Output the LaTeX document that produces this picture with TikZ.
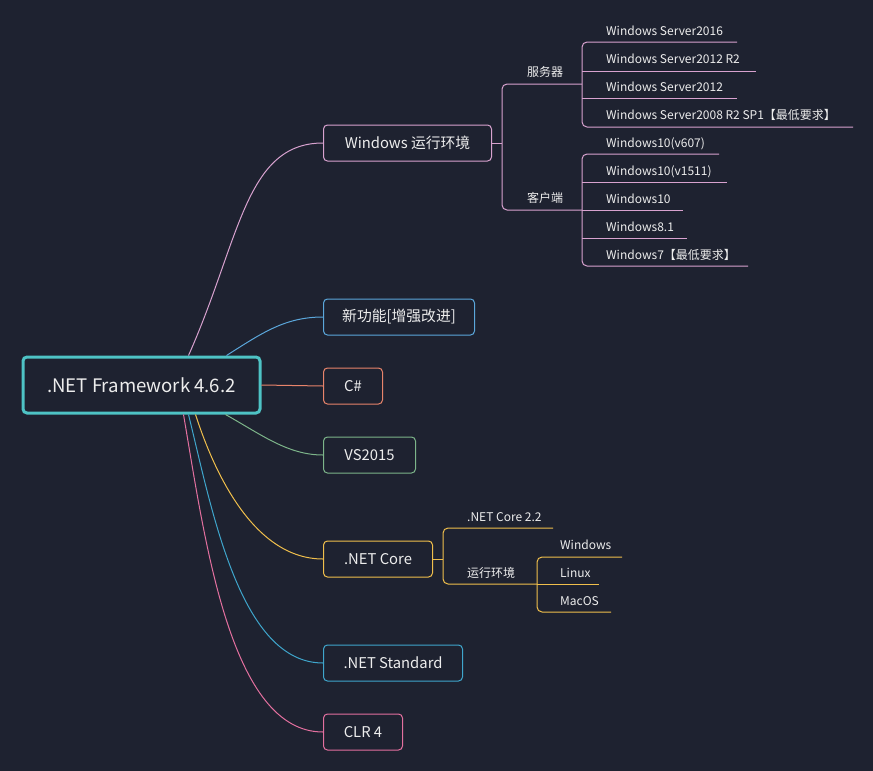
\documentclass[tikz,border=0pt]{standalone}
\usepackage{fontspec}
\setmainfont{Noto Sans CJK SC}
\definecolor{bg}{HTML}{1E2230}
\definecolor{rootc}{HTML}{4EC3C5}
\definecolor{txt}{HTML}{EDEDED}
\definecolor{cwin}{HTML}{D8A2CF}
\definecolor{cnew}{HTML}{5BA7DB}
\definecolor{ccs}{HTML}{E8846B}
\definecolor{cvs}{HTML}{7DB58A}
\definecolor{ccore}{HTML}{F0BF4C}
\definecolor{cstd}{HTML}{3FA6CC}
\definecolor{cclr}{HTML}{E3709F}
\tikzset{
  rootbox/.style={draw=rootc, line width=3pt, rounded corners=4pt, fill=bg, text=txt,
    minimum width=237pt, minimum height=56pt, inner sep=0pt, font=\fontsize{18.6}{22}\selectfont},
  branch/.style={draw=#1, line width=1pt, rounded corners=4pt, fill=bg, text=txt, anchor=west,
    minimum height=36pt, inner sep=0pt, font=\fontsize{14.8}{17}\selectfont},
  leaf/.style={text=txt, anchor=base west, inner sep=0pt, font=\fontsize{12}{14}\selectfont},
  conn/.style={draw=#1, line width=1pt},
  brk/.style={draw=#1, line width=1pt, rounded corners=5pt},
}
\begin{document}
\begin{tikzpicture}[x=1pt,y=-1pt]
\useasboundingbox (0,0) rectangle (873,771);
\fill[bg] (0,0) rectangle (873,771);

% main nodes
\node[rootbox] (root) at (141.5,385) {.NET Framework 4.6.2};
\node[branch=cwin, minimum width=168pt] (win) at (323,143) {Windows 运行环境};
\node[branch=cnew, minimum width=151pt] (new) at (323,317) {新功能[增强改进]};
\node[branch=ccs, minimum width=59pt] (cs) at (323,386) {C\#};
\node[branch=cvs, minimum width=92pt] (vs) at (323,455) {VS2015};
\node[branch=ccore, minimum width=109pt] (core) at (323,559) {.NET Core};
\node[branch=cstd, minimum width=139pt] (std) at (323,663) {.NET Standard};
\node[branch=cclr, minimum width=79pt] (clr) at (323,732) {CLR 4};

% connectors root -> branches
\draw[conn=cwin] ([xshift=167pt]root.north west) .. controls (240,240) and (245,143) .. (win.west);
\draw[conn=cnew] ([xshift=205pt]root.north west) .. controls (262,333) and (285,317) .. (new.west);
\draw[conn=ccs] (root.east) -- (cs.west);
\draw[conn=cvs] ([xshift=204pt]root.south west) .. controls (262,435) and (288,455) .. (vs.west);
\draw[conn=ccore] ([xshift=174pt]root.south west) .. controls (215,475) and (255,559) .. (core.west);
\draw[conn=cstd] ([xshift=167pt]root.south west) .. controls (212,510) and (240,663) .. (std.west);
\draw[conn=cclr] ([xshift=162pt]root.south west) .. controls (205,540) and (230,732) .. (clr.west);

% Windows branch
\coordinate (wj) at (502,143);
\coordinate (srvJ) at (582,84);
\coordinate (cliJ) at (582,210);
\draw[conn=cwin] (win.east) -- (wj);
\draw[brk=cwin] (srvJ) -- (502,84) -- (502,210) -- (cliJ);
\node[leaf] (srv) at (527,76) {服务器};
\node[leaf] (cli) at (527,202) {客户端};

% servers
\coordinate (s1e) at (737,42);
\coordinate (s2e) at (756,71);
\coordinate (s3e) at (737,98);
\coordinate (s4e) at (853,127);
\draw[brk=cwin] (s1e) -- (582,42) -- (582,127) -- (s4e);
\draw[conn=cwin] (582,71) -- (s2e);
\draw[conn=cwin] (582,98) -- (s3e);
\draw[conn=cwin] (srvJ) -- (582,84);
\node[leaf] (s1) at (606,35) {Windows Server2016};
\node[leaf] (s2) at (606,63) {Windows Server2012 R2};
\node[leaf] (s3) at (606,91) {Windows Server2012};
\node[leaf] (s4) at (606,119) {Windows Server2008 R2 SP1【最低要求】};

% clients
\coordinate (c1e) at (719,154);
\coordinate (c2e) at (727,182);
\coordinate (c3e) at (683,210);
\coordinate (c4e) at (687,238);
\coordinate (c5e) at (748,266);
\draw[brk=cwin] (c1e) -- (582,154) -- (582,266) -- (c5e);
\draw[conn=cwin] (582,182) -- (c2e);
\draw[conn=cwin] (cliJ) -- (c3e);
\draw[conn=cwin] (582,238) -- (c4e);
\node[leaf] (c1) at (606,147) {Windows10(v607)};
\node[leaf] (c2) at (606,175) {Windows10(v1511)};
\node[leaf] (c3) at (606,203) {Windows10};
\node[leaf] (c4) at (606,231) {Windows8.1};
\node[leaf] (c5) at (606,259) {Windows7【最低要求】};

% .NET Core branch
\coordinate (cj) at (443,559);
\coordinate (n1e) at (553,528);
\coordinate (rtJ) at (537,584);
\draw[conn=ccore] (core.east) -- (cj);
\draw[brk=ccore] (n1e) -- (443,528) -- (443,584) -- (rtJ);
\node[leaf] (n1) at (467,521) {.NET Core 2.2};
\node[leaf] (rt) at (467,577) {运行环境};
\coordinate (o1e) at (622,557);
\coordinate (o2e) at (599,584);
\coordinate (o3e) at (611,612);
\draw[brk=ccore] (o1e) -- (537,557) -- (537,612) -- (o3e);
\draw[conn=ccore] (rtJ) -- (o2e);
\node[leaf] (o1) at (560,549) {Windows};
\node[leaf] (o2) at (560,577) {Linux};
\node[leaf] (o3) at (560,605) {MacOS};
\end{tikzpicture}
\end{document}
